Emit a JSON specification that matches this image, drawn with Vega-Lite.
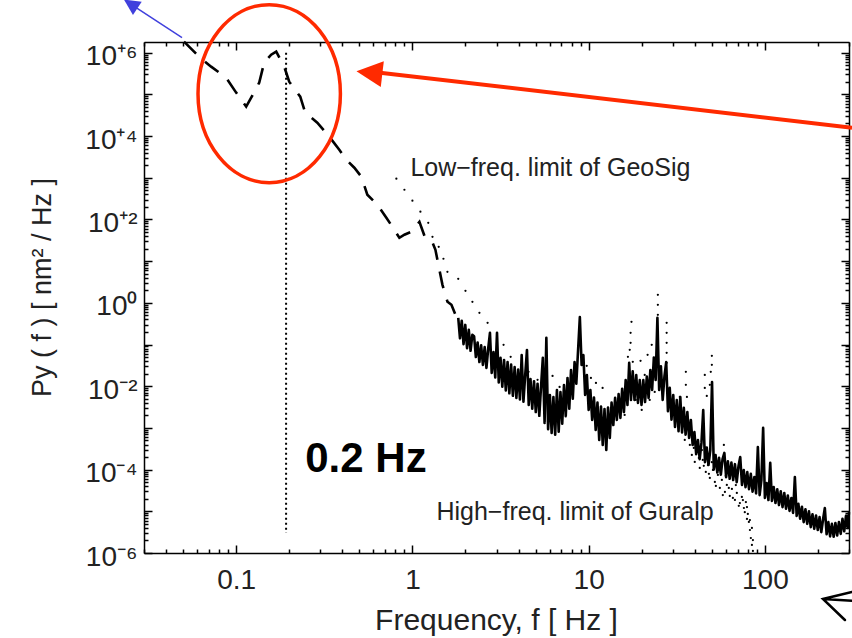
{
  "$schema": "https://vega.github.io/schema/vega-lite/v6.json",
  "autosize": {"type": "none"},
  "width": 705,
  "height": 511,
  "padding": {"left": 144, "top": 42, "right": 3, "bottom": 85},
  "background": "white",
  "config": {
    "view": {"stroke": null},
    "axis": {"domainColor": "#000", "domainWidth": 1.5, "tickColor": "#000", "tickWidth": 1.5, "grid": false, "labelOverlap": false, "labelFlush": false}
  },
  "datasets": {
    "low": [
      {"f":0.0506,"P":1.83e6},{"f":0.0616,"P":8.0e5},{"f":0.0721,"P":4.61e5},{"f":0.0877,"P":2.51e5},{"f":0.1,"P":1.10e5},{"f":0.114,"P":5.06e4},{"f":0.1217,"P":8.3e4},{"f":0.1351,"P":1.90e5},{"f":0.1442,"P":5.75e5},{"f":0.158,"P":8.95e5},{"f":0.1688,"P":1.06e6},{"f":0.1874,"P":4.61e5},{"f":0.2,"P":2.01e5},{"f":0.231,"P":8.79e4},{"f":0.2466,"P":3.63e4},{"f":0.2886,"P":2.09e4},{"f":0.3377,"P":9.64e3},{"f":0.3847,"P":4.70e3},{"f":0.4217,"P":2.70e3},{"f":0.4683,"P":1.74e3},{"f":0.5131,"P":1.06e3},{"f":0.555,"P":391},{"f":0.6325,"P":225},{"f":0.7115,"P":110},{"f":0.7696,"P":66.7},{"f":0.8436,"P":36.3},{"f":0.9006,"P":42.9},{"f":0.987,"P":50.6},{"f":1.096,"P":87.9},{"f":1.17,"P":40.6},{"f":1.282,"P":32.5},{"f":1.351,"P":18.7},{"f":1.423,"P":6.19},{"f":1.481,"P":2.70},{"f":1.581,"P":1.06},{"f":1.665,"P":0.895},{"f":1.755,"P":0.515},{"f":1.82,"P":0.437}
    ],
    "spec": [
      {"f":1.820,"P":0.437},{"f":1.862,"P":0.141},{"f":1.905,"P":0.372},{"f":1.950,"P":0.102},{"f":1.995,"P":0.295},{"f":2.042,"P":0.0813},{"f":2.089,"P":0.224},{"f":2.138,"P":0.0708},{"f":2.188,"P":0.170},{"f":2.239,"P":0.158},{"f":2.291,"P":0.0501},{"f":2.344,"P":0.112},{"f":2.399,"P":0.0380},{"f":2.455,"P":0.0955},{"f":2.512,"P":0.0324},{"f":2.570,"P":0.0871},{"f":2.630,"P":0.0275},{"f":2.692,"P":0.0794},{"f":2.754,"P":0.191},{"f":2.818,"P":0.0209},{"f":2.884,"P":0.0661},{"f":2.951,"P":0.0162},{"f":3.020,"P":0.191},{"f":3.090,"P":0.0123},{"f":3.162,"P":0.0479},{"f":3.236,"P":0.00977},{"f":3.311,"P":0.0427},{"f":3.388,"P":0.00794},{"f":3.467,"P":0.0380},{"f":3.548,"P":0.00676},{"f":3.631,"P":0.0331},{"f":3.715,"P":0.00589},{"f":3.802,"P":0.0288},{"f":3.890,"P":0.00525},{"f":3.981,"P":0.0251},{"f":4.074,"P":0.00479},{"f":4.169,"P":0.0562},{"f":4.266,"P":0.00427},{"f":4.365,"P":0.0186},{"f":4.467,"P":0.0741},{"f":4.571,"P":0.00355},{"f":4.677,"P":0.0148},{"f":4.786,"P":0.00288},{"f":4.898,"P":0.0132},{"f":5.012,"P":0.00240},{"f":5.129,"P":0.0115},{"f":5.248,"P":0.00195},{"f":5.370,"P":0.0100},{"f":5.495,"P":0.0479},{"f":5.623,"P":0.00132},{"f":5.754,"P":0.145},{"f":5.888,"P":0.000933},{"f":6.026,"P":0.00617},{"f":6.166,"P":0.000759},{"f":6.310,"P":0.00550},{"f":6.457,"P":0.000692},{"f":6.607,"P":0.00813},{"f":6.761,"P":0.000813},{"f":6.918,"P":0.00724},{"f":7.079,"P":0.00126},{"f":7.244,"P":0.0107},{"f":7.413,"P":0.00191},{"f":7.586,"P":0.0158},{"f":7.762,"P":0.00288},{"f":7.943,"P":0.0245},{"f":8.128,"P":0.00501},{"f":8.318,"P":0.0380},{"f":8.511,"P":0.0115},{"f":8.710,"P":0.0741},{"f":8.913,"P":0.457},{"f":9.120,"P":0.0324},{"f":9.333,"P":0.0562},{"f":9.550,"P":0.00617},{"f":9.772,"P":0.0186},{"f":10.00,"P":0.00269},{"f":10.23,"P":0.00813},{"f":10.47,"P":0.00155},{"f":10.72,"P":0.00537},{"f":10.96,"P":0.000891},{"f":11.22,"P":0.00407},{"f":11.48,"P":0.000513},{"f":11.75,"P":0.00324},{"f":12.02,"P":0.000389},{"f":12.30,"P":0.00282},{"f":12.59,"P":0.000295},{"f":12.88,"P":0.00309},{"f":13.18,"P":0.000575},{"f":13.49,"P":0.00407},{"f":13.80,"P":0.00117},{"f":14.13,"P":0.00525},{"f":14.45,"P":0.00155},{"f":14.79,"P":0.00646},{"f":15.14,"P":0.00174},{"f":15.49,"P":0.00871},{"f":15.85,"P":0.00240},{"f":16.22,"P":0.0141},{"f":16.60,"P":0.00355},{"f":16.98,"P":0.0363},{"f":17.38,"P":0.00468},{"f":17.78,"P":0.0229},{"f":18.20,"P":0.00468},{"f":18.62,"P":0.0186},{"f":19.05,"P":0.00398},{"f":19.50,"P":0.0141},{"f":19.95,"P":0.00355},{"f":20.42,"P":0.0141},{"f":20.89,"P":0.00417},{"f":21.38,"P":0.0170},{"f":21.88,"P":0.00525},{"f":22.39,"P":0.0245},{"f":22.91,"P":0.00813},{"f":23.44,"P":0.0490},{"f":23.99,"P":0.0141},{"f":24.55,"P":0.437},{"f":25.12,"P":0.00813},{"f":25.70,"P":0.0302},{"f":26.30,"P":0.00468},{"f":26.92,"P":0.0174},{"f":27.54,"P":0.0380},{"f":28.18,"P":0.00251},{"f":28.84,"P":0.00912},{"f":29.51,"P":0.00158},{"f":30.20,"P":0.00617},{"f":30.90,"P":0.00105},{"f":31.62,"P":0.00468},{"f":32.36,"P":0.000832},{"f":33.11,"P":0.00550},{"f":33.88,"P":0.000776},{"f":34.67,"P":0.00302},{"f":35.48,"P":0.000692},{"f":36.31,"P":0.00240},{"f":37.15,"P":0.000575},{"f":38.02,"P":0.00155},{"f":38.90,"P":0.000389},{"f":39.81,"P":0.000794},{"f":40.74,"P":0.000234},{"f":41.69,"P":0.000513},{"f":42.66,"P":0.000178},{"f":43.65,"P":0.000437},{"f":44.67,"P":0.00269},{"f":45.71,"P":0.000151},{"f":46.77,"P":0.000339},{"f":47.86,"P":0.000129},{"f":48.98,"P":0.000288},{"f":50.12,"P":0.0126},{"f":51.29,"P":0.000100},{"f":52.48,"P":0.000224},{"f":53.70,"P":8.51e-5},{"f":54.95,"P":1.91e-4},{"f":56.23,"P":7.59e-5},{"f":57.54,"P":1.82e-4},{"f":58.88,"P":2.51e-4},{"f":60.26,"P":6.61e-5},{"f":61.66,"P":1.58e-4},{"f":63.10,"P":6.03e-5},{"f":64.57,"P":1.48e-4},{"f":66.07,"P":5.62e-5},{"f":67.61,"P":1.35e-4},{"f":69.18,"P":5.01e-5},{"f":70.79,"P":1.20e-4},{"f":72.44,"P":2.00e-4},{"f":74.13,"P":4.27e-5},{"f":75.86,"P":9.77e-5},{"f":77.62,"P":3.80e-5},{"f":79.43,"P":8.71e-5},{"f":81.28,"P":3.39e-5},{"f":83.18,"P":7.94e-5},{"f":85.11,"P":2.95e-5},{"f":87.10,"P":6.61e-5},{"f":89.13,"P":2.69e-5},{"f":91.20,"P":3.47e-4},{"f":93.33,"P":2.45e-5},{"f":95.50,"P":5.62e-5},{"f":97.72,"P":1.00e-3},{"f":100.0,"P":2.09e-5},{"f":102.3,"P":4.79e-5},{"f":104.7,"P":1.86e-5},{"f":107.2,"P":1.45e-4},{"f":109.6,"P":1.78e-5},{"f":112.2,"P":3.80e-5},{"f":114.8,"P":1.58e-5},{"f":117.5,"P":3.39e-5},{"f":120.2,"P":1.41e-5},{"f":123.0,"P":3.02e-5},{"f":125.9,"P":1.26e-5},{"f":128.8,"P":2.75e-5},{"f":131.8,"P":1.15e-5},{"f":134.9,"P":2.40e-5},{"f":138.0,"P":1.02e-5},{"f":141.3,"P":2.09e-5},{"f":144.5,"P":9.12e-6},{"f":147.9,"P":6.61e-5},{"f":151.4,"P":7.76e-6},{"f":154.9,"P":1.51e-5},{"f":158.5,"P":6.61e-6},{"f":162.2,"P":1.29e-5},{"f":166.0,"P":5.50e-6},{"f":169.8,"P":1.12e-5},{"f":173.8,"P":5.01e-6},{"f":177.8,"P":1.00e-5},{"f":182.0,"P":4.17e-6},{"f":186.2,"P":8.51e-6},{"f":190.5,"P":3.80e-6},{"f":195.0,"P":7.94e-6},{"f":199.5,"P":3.55e-6},{"f":204.2,"P":7.24e-6},{"f":208.9,"P":3.16e-6},{"f":213.8,"P":6.46e-6},{"f":218.8,"P":1.20e-5},{"f":223.9,"P":2.82e-6},{"f":229.1,"P":5.50e-6},{"f":234.4,"P":2.51e-6},{"f":239.9,"P":5.01e-6},{"f":245.5,"P":2.45e-6},{"f":251.2,"P":5.25e-6},{"f":257.0,"P":2.63e-6},{"f":263.0,"P":5.50e-6},{"f":269.2,"P":2.88e-6},{"f":275.4,"P":6.61e-6},{"f":281.8,"P":3.31e-6},{"f":288.4,"P":7.76e-6},{"f":295.1,"P":3.98e-6},{"f":300.0,"P":9.55e-6}
    ],
    "dots": [
      {"f":0.811,"P":946},{"f":0.901,"P":515},{"f":1.0,"P":281},{"f":1.11,"P":153},{"f":1.23,"P":83.2},{"f":1.30,"P":38.4},{"f":1.41,"P":22.1},{"f":1.50,"P":11.4},{"f":1.58,"P":5.55},{"f":1.82,"P":3.77},{"f":2.00,"P":1.94},{"f":2.19,"P":1.06},{"f":2.40,"P":0.575},{"f":2.67,"P":0.331},{"f":3.29,"P":0.0982},{"f":3.61,"P":0.0506},{"f":4.56,"P":0.0221},{"f":5.13,"P":0.0142},{"f":6.24,"P":0.0177},{"f":6.84,"P":0.00964},{"f":7.60,"P":0.0120},{"f":8.11,"P":0.0142},{"f":9.75,"P":0.0308},{"f":10.3,"P":0.0158},{"f":11.0,"P":0.0120},{"f":12.0,"P":0.00912},{"f":17.5,"P":0.350},{"f":17.3,"P":0.191},{"f":17.3,"P":0.110},{"f":17.1,"P":0.0745},{"f":16.7,"P":0.0506},{"f":17.8,"P":0.0384},{"f":19.7,"P":0.0406},{"f":20.8,"P":0.0187},{"f":21.6,"P":0.0565},{"f":22.8,"P":0.0982},{"f":24.7,"P":1.56},{"f":24.7,"P":0.895},{"f":24.7,"P":0.515},{"f":27.7,"P":0.331},{"f":27.7,"P":0.191},{"f":27.7,"P":0.110},{"f":27.7,"P":0.0631},{"f":27.7,"P":0.0363},{"f":35.6,"P":0.0221},{"f":35.6,"P":0.0108},{"f":32.9,"P":0.00555},{"f":36.1,"P":0.00555},{"f":45.6,"P":0.0187},{"f":45.6,"P":0.00912},{"f":46.8,"P":0.00586},{"f":50.0,"P":0.0535},{"f":50.0,"P":0.0325},{"f":49.3,"P":0.0221},{"f":48.7,"P":0.0108},{"f":15.0,"P":0.00356},{"f":16.0,"P":0.00205},{"f":18.5,"P":0.00470},{"f":20.0,"P":0.00270},{"f":22.2,"P":0.00470},{"f":23.7,"P":0.00731},
      {"f":38.5,"P":2.25e-4},{"f":40.0,"P":1.53e-4},{"f":41.6,"P":2.65e-4},{"f":42.7,"P":1.10e-4},{"f":44.4,"P":1.71e-4},{"f":46.2,"P":8.79e-5},{"f":47.5,"P":1.29e-4},{"f":48.7,"P":6.31e-5},{"f":50.7,"P":9.82e-5},{"f":52.0,"P":5.06e-5},{"f":54.1,"P":7.45e-5},{"f":55.5,"P":3.63e-5},{"f":57.0,"P":5.65e-5},{"f":59.3,"P":2.91e-5},{"f":60.8,"P":4.28e-5},{"f":63.2,"P":2.33e-5},{"f":65.0,"P":3.44e-5},{"f":67.6,"P":1.87e-5},{"f":69.3,"P":2.75e-5},{"f":72.1,"P":1.58e-5},{"f":74.0,"P":2.21e-5},{"f":76.0,"P":1.20e-5},{"f":78.0,"P":1.67e-5},{"f":80.0,"P":8.63e-6},{"f":81.1,"P":5.55e-6},{"f":82.2,"P":3.56e-6},{"f":83.2,"P":2.29e-6},{"f":84.4,"P":1.56e-6},{"f":85.5,"P":1.12e-6},{"f":79.1,"P":6.55e-6},{"f":58.5,"P":3.91e-4},{"f":37.5,"P":3.91e-4},{"f":35.1,"P":5.15e-4},
      {"f":39.5,"P":3.31e-4},{"f":42.2,"P":1.91e-4},{"f":43.9,"P":2.95e-4},{"f":45.0,"P":1.23e-4},{"f":48.1,"P":7.94e-5},{"f":50.0,"P":1.51e-4},{"f":52.7,"P":4.07e-5},{"f":54.8,"P":9.77e-5},{"f":57.7,"P":2.45e-5},{"f":60.0,"P":7.08e-5},{"f":62.4,"P":3.63e-5},{"f":65.8,"P":2.09e-5},{"f":68.4,"P":4.27e-5},{"f":71.1,"P":1.35e-5},{"f":75.0,"P":1.86e-5},{"f":76.9,"P":9.55e-6},{"f":79.1,"P":1.26e-5},{"f":82.2,"P":6.17e-6},{"f":84.4,"P":3.98e-6},{"f":85.5,"P":2.04e-6}
    ]
  },
  "layer": [
    {
      "data": {"name": "spec"},
      "mark": {"type": "line", "color": "#000", "strokeWidth": 2.6, "strokeJoin": "round"},
      "encoding": {
        "x": {"field": "f", "type": "quantitative", "scale": {"type": "log", "domain": [0.03, 300], "nice": false},
          "axis": {"orient": "bottom", "values": [0.1, 1, 10, 100],
            "labelExpr": "datum.value == 0.1 ? '0.1' : datum.value == 1 ? '1' : datum.value == 10 ? '10' : datum.value == 100 ? '100' : ''",
            "tickSize": -8,
            "labelPadding": 43, "labelBaseline": "alphabetic", "labelFont": "Liberation Sans", "labelFontSize": 28, "labelColor": "#222",
            "title": "Frequency, f [ Hz ]", "titleFont": "Liberation Sans", "titleFontSize": 30, "titleFontWeight": "normal", "titleColor": "#222",
            "titleX": 352, "titleY": 76, "titleBaseline": "alphabetic", "titleAlign": "center"}},
        "y": {"field": "P", "type": "quantitative", "scale": {"type": "log", "domain": [1e-6, 1.8e6], "nice": false},
          "axis": {"orient": "left", "values": [1e-6,1e-5,1e-4,1e-3,1e-2,0.1,1,10,100,1e3,1e4,1e5,1e6],
            "labelExpr": "datum.value == 1e6 ? '10⁺⁶' : datum.value == 1e4 ? '10⁺⁴' : datum.value == 100 ? '10⁺²' : datum.value == 1 ? '10⁰' : datum.value == 0.01 ? '10⁻²' : datum.value == 1e-4 ? '10⁻⁴' : datum.value == 1e-6 ? '10⁻⁶' : ''",
            "tickSize": -8,
            "labelPadding": 15, "labelBaseline": "alphabetic", "labelOffset": 12, "labelFont": "Liberation Sans", "labelFontSize": 28, "labelColor": "#222",
            "title": "Py ( f ) [ nm² / Hz ]", "titleFont": "Liberation Sans", "titleFontSize": 27, "titleFontWeight": "normal", "titleColor": "#222",
            "titleX": -94, "titleY": 245, "titleAngle": -90, "titleBaseline": "alphabetic", "titleAlign": "center"}}
      }
    },
    {
      "data": {"name": "low"},
      "mark": {"type": "line", "color": "#000", "strokeWidth": 2.6, "strokeDash": [17, 12]},
      "encoding": {
        "x": {"field": "f", "type": "quantitative", "scale": {"type": "log", "domain": [0.03, 300], "nice": false},
          "axis": {"orient": "bottom", "values": [0.03,0.04,0.05,0.06,0.07,0.08,0.09,0.2,0.3,0.4,0.5,0.6,0.7,0.8,0.9,2,3,4,5,6,7,8,9,20,30,40,50,60,70,80,90,200,300], "labels": false, "title": null, "domain": false, "tickSize": -4}},
        "y": {"field": "P", "type": "quantitative", "scale": {"type": "log", "domain": [1e-6, 1.8e6], "nice": false},
          "axis": {"orient": "left", "values": [2e-6,3e-6,4e-6,5e-6,6e-6,7e-6,8e-6,9e-6,2e-5,3e-5,4e-5,5e-5,6e-5,7e-5,8e-5,9e-5,2e-4,3e-4,4e-4,5e-4,6e-4,7e-4,8e-4,9e-4,2e-3,3e-3,4e-3,5e-3,6e-3,7e-3,8e-3,9e-3,2e-2,3e-2,4e-2,5e-2,6e-2,7e-2,8e-2,9e-2,0.2,0.3,0.4,0.5,0.6,0.7,0.8,0.9,2,3,4,5,6,7,8,9,20,30,40,50,60,70,80,90,200,300,400,500,600,700,800,900,2e3,3e3,4e3,5e3,6e3,7e3,8e3,9e3,2e4,3e4,4e4,5e4,6e4,7e4,8e4,9e4,2e5,3e5,4e5,5e5,6e5,7e5,8e5,9e5], "labels": false, "title": null, "domain": false, "tickSize": -4}}
      }
    },
    {
      "data": {"name": "dots"},
      "mark": {"type": "point", "filled": true, "color": "#000", "size": 5, "opacity": 1},
      "encoding": {
        "x": {"field": "f", "type": "quantitative", "scale": {"type": "log", "domain": [0.03, 300], "nice": false},
          "axis": {"orient": "top", "values": [0.1, 1, 10, 100], "labels": false, "title": null, "tickSize": -8}},
        "y": {"field": "P", "type": "quantitative", "scale": {"type": "log", "domain": [1e-6, 1.8e6], "nice": false},
          "axis": {"orient": "right", "values": [1e-6,1e-5,1e-4,1e-3,1e-2,0.1,1,10,100,1e3,1e4,1e5,1e6], "labels": false, "title": null, "tickSize": -8}}
      }
    },
    {
      "data": {"values": [{"f": 0.192, "P": 1e6, "P2": 3e-6}]},
      "mark": {"type": "rule", "color": "#000", "strokeWidth": 2, "strokeDash": [2, 3]},
      "encoding": {
        "x": {"field": "f", "type": "quantitative", "scale": {"type": "log", "domain": [0.03, 300], "nice": false},
          "axis": {"orient": "top", "values": [0.03,0.04,0.05,0.06,0.07,0.08,0.09,0.2,0.3,0.4,0.5,0.6,0.7,0.8,0.9,2,3,4,5,6,7,8,9,20,30,40,50,60,70,80,90,200,300], "labels": false, "title": null, "domain": false, "tickSize": -4}},
        "y": {"field": "P", "type": "quantitative", "scale": {"type": "log", "domain": [1e-6, 1.8e6], "nice": false},
          "axis": {"orient": "right", "values": [2e-6,3e-6,4e-6,5e-6,6e-6,7e-6,8e-6,9e-6,2e-5,3e-5,4e-5,5e-5,6e-5,7e-5,8e-5,9e-5,2e-4,3e-4,4e-4,5e-4,6e-4,7e-4,8e-4,9e-4,2e-3,3e-3,4e-3,5e-3,6e-3,7e-3,8e-3,9e-3,2e-2,3e-2,4e-2,5e-2,6e-2,7e-2,8e-2,9e-2,0.2,0.3,0.4,0.5,0.6,0.7,0.8,0.9,2,3,4,5,6,7,8,9,20,30,40,50,60,70,80,90,200,300,400,500,600,700,800,900,2e3,3e3,4e3,5e3,6e3,7e3,8e3,9e3,2e4,3e4,4e4,5e4,6e4,7e4,8e4,9e4,2e5,3e5,4e5,5e5,6e5,7e5,8e5,9e5], "labels": false, "title": null, "domain": false, "tickSize": -4}},
        "y2": {"field": "P2"}
      }
    },
    {
      "data": {"values": [{"f": 0.974, "P": 1117, "label": "Low−freq. limit of GeoSig"}, {"f": 1.369, "P": 6.2e-6, "label": "High−freq. limit of Guralp"}]},
      "mark": {"type": "text", "align": "left", "baseline": "alphabetic", "font": "Liberation Sans", "fontSize": 25, "color": "#222"},
      "encoding": {
        "x": {"field": "f", "type": "quantitative", "scale": {"type": "log", "domain": [0.03, 300], "nice": false}, "axis": null},
        "y": {"field": "P", "type": "quantitative", "scale": {"type": "log", "domain": [1e-6, 1.8e6], "nice": false}, "axis": null},
        "text": {"field": "label"}
      }
    },
    {
      "data": {"values": [{"f": 0.2466, "P": 8.8e-5, "label": "0.2 Hz"}]},
      "mark": {"type": "text", "align": "left", "baseline": "alphabetic", "font": "Liberation Sans", "fontSize": 42, "fontWeight": "bold", "color": "#000"},
      "encoding": {
        "x": {"field": "f", "type": "quantitative", "scale": {"type": "log", "domain": [0.03, 300], "nice": false}, "axis": null},
        "y": {"field": "P", "type": "quantitative", "scale": {"type": "log", "domain": [1e-6, 1.8e6], "nice": false}, "axis": null},
        "text": {"field": "label"}
      }
    },
    {
      "data": {"values": [{"f": 0.154, "P": 1.04e5}]},
      "mark": {"type": "point", "shape": "M 0.8 0 C 0.8 0.5523 0.4418 1 0 1 C -0.4418 1 -0.8 0.5523 -0.8 0 C -0.8 -0.5523 -0.4418 -1 0 -1 C 0.4418 -1 0.8 -0.5523 0.8 0 Z", "size": 31684, "filled": false, "stroke": "#ff2a00", "strokeWidth": 3.5, "opacity": 1},
      "encoding": {
        "x": {"field": "f", "type": "quantitative", "scale": {"type": "log", "domain": [0.03, 300], "nice": false}, "axis": null},
        "y": {"field": "P", "type": "quantitative", "scale": {"type": "log", "domain": [1e-6, 1.8e6], "nice": false}, "axis": null}
      }
    },
    {
      "data": {"values": [{"f": 312, "P": 1.58e4}, {"f": 0.585, "P": 3.5e5}]},
      "mark": {"type": "line", "color": "#ff2a00", "strokeWidth": 4},
      "encoding": {
        "x": {"field": "f", "type": "quantitative", "scale": {"type": "log", "domain": [0.03, 300], "nice": false}, "axis": null},
        "y": {"field": "P", "type": "quantitative", "scale": {"type": "log", "domain": [1e-6, 1.8e6], "nice": false}, "axis": null}
      }
    },
    {
      "data": {"values": [{"f": 0.570, "P": 3.31e5}]},
      "mark": {"type": "point", "shape": "M -1 0 L 1 -1 L 1 1 Z", "size": 676, "angle": 6.7, "filled": true, "color": "#ff2a00", "opacity": 1},
      "encoding": {
        "x": {"field": "f", "type": "quantitative", "scale": {"type": "log", "domain": [0.03, 300], "nice": false}, "axis": null},
        "y": {"field": "P", "type": "quantitative", "scale": {"type": "log", "domain": [1e-6, 1.8e6], "nice": false}, "axis": null}
      }
    },
    {
      "data": {"values": [{"f": 0.0493, "P": 2.29e6}, {"f": 0.026, "P": 1.34e7}]},
      "mark": {"type": "line", "color": "#4040dd", "strokeWidth": 1.5},
      "encoding": {
        "x": {"field": "f", "type": "quantitative", "scale": {"type": "log", "domain": [0.03, 300], "nice": false}, "axis": null},
        "y": {"field": "P", "type": "quantitative", "scale": {"type": "log", "domain": [1e-6, 1.8e6], "nice": false}, "axis": null}
      }
    },
    {
      "data": {"values": [{"f": 0.0252, "P": 1.47e7}]},
      "mark": {"type": "point", "shape": "M -1 0 L 1 -1 L 1 1 Z", "size": 256, "angle": 33.2, "filled": true, "color": "#4040dd", "opacity": 1},
      "encoding": {
        "x": {"field": "f", "type": "quantitative", "scale": {"type": "log", "domain": [0.03, 300], "nice": false}, "axis": null},
        "y": {"field": "P", "type": "quantitative", "scale": {"type": "log", "domain": [1e-6, 1.8e6], "nice": false}, "axis": null}
      }
    },
    {
      "data": {"values": [{"f": 253, "P": 5.65e-8}]},
      "mark": {"type": "point", "shape": "M 1.14 -0.93 L -0.93 -0.43 L 0.64 1.07 M -0.93 -0.43 L 1.14 -0.3", "size": 784, "filled": false, "stroke": "#000", "strokeWidth": 2.5, "strokeCap": "round", "opacity": 1},
      "encoding": {
        "x": {"field": "f", "type": "quantitative", "scale": {"type": "log", "domain": [0.03, 300], "nice": false}, "axis": null},
        "y": {"field": "P", "type": "quantitative", "scale": {"type": "log", "domain": [1e-6, 1.8e6], "nice": false}, "axis": null}
      }
    }
  ],
  "resolve": {"axis": {"x": "independent", "y": "independent"}}
}
